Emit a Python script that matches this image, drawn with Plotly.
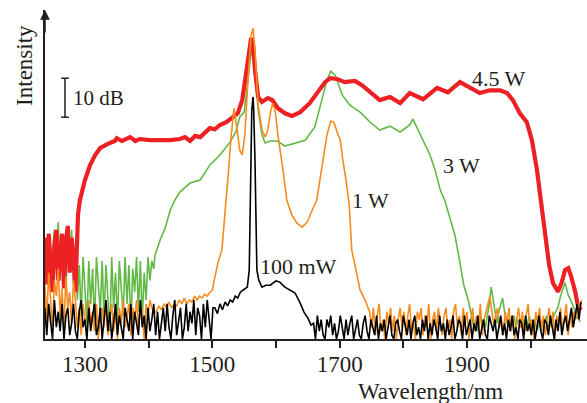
import plotly.graph_objects as go

FONT = "Liberation Serif, Times New Roman, serif"
INK = "#231F20"

RED = "#ED2024"
GREEN = "#62B946"
ORANGE = "#F68B1F"
BLACK = "#000000"

# Noise-floor segments are stored as spectrometer samples taken every NOISE_STEP nm
NOISE_STEP = 3

# ---------------- 4.5 W ----------------
red_noise_start = 1237
red_noise_db = [26, 14, 27, 19, 12, 24, 28, 15, 22, 27, 13, 25, 29, 17, 26, 21, 12, 27]
red_wl = [1289, 1292, 1300, 1308, 1316, 1324, 1331, 1339, 1347, 1350, 1358, 1371, 1379,
          1386, 1402, 1418, 1434, 1449, 1457, 1465, 1473, 1481, 1489, 1496, 1504, 1512,
          1522, 1533, 1540, 1547, 1551, 1556, 1561, 1564, 1567, 1572, 1578, 1587, 1594,
          1603, 1614, 1625, 1638, 1653, 1666, 1677, 1685, 1696, 1708, 1724, 1735, 1748,
          1763, 1779, 1795, 1810, 1831, 1853, 1870, 1889, 1905, 1920, 1936, 1952, 1963,
          1972, 1983, 1994, 2002, 2010, 2016, 2023, 2029, 2035, 2043, 2049, 2054, 2059,
          2063, 2070, 2074, 2079]
red_db = [31.8, 35.6, 40.8, 44.6, 47.2, 49.0, 49.7, 50.3, 50.8, 51.5, 50.8, 51.8, 50.8,
          51.3, 51.0, 51.0, 51.0, 51.3, 51.8, 50.8, 52.1, 51.8, 53.1, 54.1, 53.8, 54.9,
          55.6, 56.9, 57.9, 61.3, 66.4, 72.8, 77.2, 75.4, 69.0, 62.1, 60.8, 61.8, 61.3,
          59.2, 57.9, 57.2, 58.2, 60.5, 63.3, 65.9, 66.9, 66.7, 65.9, 66.2, 65.1, 63.3,
          61.3, 62.1, 60.5, 63.1, 61.5, 64.4, 63.3, 65.9, 64.6, 63.1, 63.8, 63.8, 63.1,
          61.3, 57.9, 55.6, 51.0, 43.3, 35.6, 26.7, 19.0, 14.4, 12.1, 14.6, 17.7, 18.2,
          16.4, 12.1, 8.7, 7.4]

# ---------------- 3 W ----------------
green_noise_start = 1237
green_noise_db = [26, 17, 24, 13, 22, 28, 19, 30, 15, 27, 21, 12, 26, 18, 28, 14, 24, 10,
                  19, 6, 21, 12, 4, 20, 9, 18, 3, 21, 14, 7, 20, 5, 19, 11, 2, 21, 8, 17,
                  4, 20, 13, 6, 21, 9, 19, 3, 18, 12, 21, 7, 20, 5, 17, 10, 21, 15, 20, 18]
green_wl = [1410, 1418, 1426, 1434, 1441, 1449, 1465, 1481, 1496, 1512, 1528, 1537, 1543,
            1550, 1556, 1561, 1565, 1569, 1572, 1578, 1583, 1591, 1602, 1614, 1630, 1646,
            1661, 1672, 1680, 1686, 1693, 1704, 1716, 1732, 1748, 1763, 1779, 1795, 1810,
            1815, 1823, 1831, 1842, 1850, 1858, 1865, 1873, 1881, 1889, 1895, 1902]
green_db = [21.5, 25.4, 28.5, 33.1, 35.6, 37.7, 40.0, 40.8, 44.6, 47.2, 50.5, 53.1, 56.9,
            58.2, 66.4, 74.1, 71.5, 63.8, 58.7, 52.3, 50.3, 50.8, 50.8, 49.5, 50.3, 51.0,
            54.4, 61.3, 66.4, 68.7, 67.7, 62.6, 60.0, 58.2, 55.6, 53.6, 54.6, 53.1, 54.9,
            56.4, 53.6, 51.0, 47.2, 43.3, 38.2, 35.6, 31.0, 26.7, 19.5, 13.8, 10.0]
green_tail_start = 1908
green_tail_db = [5.6, 3, 5, 2, 6, 4, 5, 3, 6, 9, 13.3, 10, 6, 4, 7, 9, 10.5, 7, 4, 5,
                 2, 4, 6, 3, 5, 4, 3, 5, 2, 4, 6, 3, 4, 5, 2, 4, 3, 5, 4, 6, 3, 4, 5, 6, 7]
green_end_wl = [2043, 2047, 2051, 2054, 2059, 2065, 2073, 2078]
green_end_db = [8.2, 11.0, 13.3, 14.4, 11.3, 9.2, 5.6, 4.4]

# ---------------- 1 W ----------------
orange_noise_start = 1237
orange_noise_db = [14, 5, 17, 9, 3, 15, 11, 18, 6, 13, 2, 16, 8, 12, 4, 15, 10,
                   3, 8, 1, 9, 5, 0, 10, 4, 7, 2, 9, 0, 6, 8, 3, 10, 1, 5, 9, 2, 7, 0, 8,
                   4, 10, 3, 6, 9, 1, 8, 5, 10, 2, 9, 7, 0, 9, 6, 10, 8, 7]
orange_base_wl = [1412, 1416, 1420, 1424, 1428, 1432, 1436, 1440, 1444, 1448, 1452, 1456,
                  1460, 1464, 1468, 1472, 1476, 1480, 1484, 1488, 1492, 1496, 1500]
orange_base_db = [7, 8.5, 7.5, 9, 8, 9.5, 8, 9, 8.5, 10, 9, 10.5, 9, 10, 9.5, 11, 10, 11,
                  10.5, 11.5, 11, 12, 12.5]
orange_wl = [1503, 1509, 1515, 1520, 1525, 1529, 1534, 1539, 1543, 1547, 1551, 1556, 1561,
             1564, 1567, 1572, 1578, 1583, 1587, 1592, 1595, 1599, 1603, 1611, 1617, 1625,
             1633, 1641, 1649, 1657, 1664, 1669, 1674, 1680, 1686, 1691, 1696, 1701, 1705,
             1710, 1715, 1719, 1724, 1732, 1740]
orange_db = [15.1, 19.7, 22.8, 31.8, 42.1, 51.0, 59.2, 53.6, 48.5, 47.2, 52.3, 66.4, 77.9,
             79.7, 74.1, 60.0, 53.6, 51.8, 53.6, 58.7, 60.5, 58.2, 52.3, 43.3, 35.6, 31.8,
             29.7, 28.7, 30.0, 33.1, 35.6, 40.8, 45.9, 52.3, 55.9, 55.6, 53.1, 51.0, 45.9,
             40.8, 34.4, 22.8, 19.0, 12.6, 10.0]
orange_tail_start = 1747
orange_tail_db = [7, 3, 8, 1, 6, 9, 2, 5, 0, 7, 4, 8, 2, 6, 0, 5, 8, 3, 7, 1,
                  6, 9, 2, 4, 0, 7, 5, 8, 1, 6, 3, 9, 0, 5, 7, 2, 8, 4, 1, 6,
                  8, 2, 5, 0, 7, 9, 3, 6, 1, 8, 4, 7, 0, 5, 8, 2, 6, 3, 9, 1,
                  5, 7, 9, 11, 7, 4, 6, 8, 3, 5, 1, 7, 4, 8, 2, 6, 0, 5, 8, 3,
                  7, 1, 6, 9, 2, 5, 0, 7, 4, 8, 2, 6, 1, 5, 8, 3, 7, 0, 6, 4,
                  8, 2, 5, 9, 1, 6, 3, 7, 5, 9, 8, 10]

# ---------------- 100 mW ----------------
black_noise_start = 1237
black_noise_db = [8, 1, 9, 5, 0, 10, 3, 7, 2, 9, 0, 6, 8, 1, 4, 9, 2, 0, 7, 10,
                  3, 5, 0, 8, 2, 6, 9, 1, 3, 8, 0, 5, 10, 2, 7, 0, 4, 9, 1, 6,
                  3, 0, 8, 5, 2, 9, 0, 7, 4, 1, 10, 3, 6, 0, 8, 2, 5, 9, 1, 7,
                  0, 4, 8, 2, 9, 3, 0, 6, 10, 1, 5, 8, 0, 3, 9, 2, 7, 4, 10, 1,
                  8, 6, 0, 9, 3, 10, 5, 0, 8]
black_wl = [1504, 1508, 1512, 1516, 1520, 1524, 1528, 1532, 1536, 1540, 1544, 1548, 1552,
            1555, 1558, 1559, 1561, 1562, 1564, 1565, 1567, 1569, 1570, 1573, 1578, 1584,
            1591, 1600, 1606, 1614, 1622, 1630, 1638, 1644, 1650, 1655]
black_db = [8, 6.5, 9, 7.5, 9.5, 8.5, 10, 9.5, 11, 10.5, 12, 12.5, 13, 13.3,
            17.7, 30.5, 45.9, 58.7, 62.1, 58.7, 45.9, 30.5, 17.7, 15.1, 13.3, 13.8, 13.8,
            14.9, 14.6, 13.3, 12.6, 11.8, 9.2, 6.9, 5.4, 3.6]
black_tail_start = 1659
black_tail_db = [4, 0, 6, 2, 5, 1, 0, 5, 3, 6, 1, 4, 0, 2, 6, 3, 0, 5, 1, 4,
                 6, 0, 3, 5, 1, 0, 4, 6, 2, 0, 5, 3, 1, 6, 0, 4, 2, 5, 0, 3,
                 6, 1, 0, 4, 5, 2, 0, 6, 3, 1, 5, 0, 4, 6, 1, 3, 0, 5, 2, 6,
                 0, 4, 1, 5, 3, 0, 6, 2, 4, 0, 5, 1, 3, 6, 0, 2, 5, 4, 0, 6,
                 1, 3, 5, 0, 4, 2, 6, 0, 3, 5, 1, 0, 6, 4, 2, 5, 0, 3, 6, 1,
                 4, 0, 5, 2, 6, 1, 3, 0, 5, 4, 0, 6, 2, 4, 1, 5, 0, 3, 6, 2,
                 0, 5, 4, 1, 6, 3, 0, 5, 2, 7, 1, 4, 6, 2, 5, 8, 3, 6, 9, 5, 9.5]

# Curve labels: (text, wavelength, level)
labels = [("4.5 W", 1950, 66.9), ("3 W", 1892, 44.6), ("1 W", 1748, 35.6),
          ("100 mW", 1636, 18.5)]

x_ticks = [1300, 1400, 1500, 1600, 1700, 1800, 1900, 2000]
x_tick_text = ["1300", "", "1500", "", "1700", "", "1900", ""]
x_range = [1237.2, 2088.5]
y_range = [0, 84.4]
scale_bar_db = 10
scale_bar_top = 66.9
scale_bar_wl = 1268.6


def sampled(start, values):
    return [start + NOISE_STEP * i for i in range(len(values))]


def spectrum(*segments):
    xs, ys = [], []
    for wl, db in segments:
        xs += list(wl)
        ys += list(db)
    return xs, ys


spectra = [
    ("3 W", GREEN, 1.6, spectrum(
        (sampled(green_noise_start, green_noise_db), green_noise_db),
        (green_wl, green_db),
        (sampled(green_tail_start, green_tail_db), green_tail_db),
        (green_end_wl, green_end_db))),
    ("4.5 W", RED, 4.2, spectrum(
        (sampled(red_noise_start, red_noise_db), red_noise_db),
        (red_wl, red_db))),
    ("1 W", ORANGE, 1.6, spectrum(
        (sampled(orange_noise_start, orange_noise_db), orange_noise_db),
        (orange_base_wl, orange_base_db),
        (orange_wl, orange_db),
        (sampled(orange_tail_start, orange_tail_db), orange_tail_db))),
    ("100 mW", BLACK, 1.6, spectrum(
        (sampled(black_noise_start, black_noise_db), black_noise_db),
        (black_wl, black_db),
        (sampled(black_tail_start, black_tail_db), black_tail_db))),
]

fig = go.Figure()
for name, color, width, (xs, ys) in spectra:
    fig.add_trace(go.Scatter(x=xs, y=ys, mode="lines", name=name,
                             line=dict(color=color, width=width),
                             showlegend=False, hoverinfo="skip"))

annotations = []
for text, wl, db in labels:
    annotations.append(dict(x=wl, y=db, xref="x", yref="y", text=text,
                            showarrow=False, font=dict(family=FONT, size=22, color=INK)))

# Axis titles
annotations.append(dict(x=-0.037, y=0.833, xref="paper", yref="paper", text="Intensity",
                        textangle=-90, showarrow=False, xanchor="center", yanchor="middle",
                        font=dict(family=FONT, size=23, color=INK)))
annotations.append(dict(x=1842, y=-0.159, xref="x", yref="paper", text="Wavelength/nm",
                        showarrow=False, xanchor="center", yanchor="middle",
                        font=dict(family=FONT, size=23, color=INK)))
# Scale-bar caption
annotations.append(dict(x=scale_bar_wl + 10, y=scale_bar_top - scale_bar_db / 2,
                        xref="x", yref="y", text="10 dB", xanchor="left", yanchor="middle",
                        showarrow=False, font=dict(family=FONT, size=21, color=INK)))
# Arrow head on the intensity axis
annotations.append(dict(x=x_range[0], y=y_range[1], xref="x", yref="y", text="",
                        showarrow=True, ax=0, ay=24, arrowhead=2, arrowsize=1.3,
                        arrowwidth=1.5, arrowcolor=INK))

shapes = [
    dict(type="line", xref="x", yref="y", x0=scale_bar_wl, x1=scale_bar_wl,
         y0=scale_bar_top - scale_bar_db, y1=scale_bar_top, line=dict(color=INK, width=1.5)),
    dict(type="line", xref="x", yref="y", x0=scale_bar_wl - 6, x1=scale_bar_wl + 6,
         y0=scale_bar_top, y1=scale_bar_top, line=dict(color=INK, width=1.5)),
    dict(type="line", xref="x", yref="y", x0=scale_bar_wl - 6, x1=scale_bar_wl + 6,
         y0=scale_bar_top - scale_bar_db, y1=scale_bar_top - scale_bar_db,
         line=dict(color=INK, width=1.5)),
]

fig.update_layout(
    width=587, height=403,
    margin=dict(l=45, r=0, t=10, b=64),
    paper_bgcolor="white", plot_bgcolor="white",
    annotations=annotations, shapes=shapes,
    xaxis=dict(range=x_range, showline=True, linecolor=INK, linewidth=1.5,
               ticks="outside", ticklen=7, tickwidth=1.5, tickcolor=INK,
               ticklabelstandoff=-3,
               tickvals=x_ticks, ticktext=x_tick_text, showgrid=False, zeroline=False,
               tickfont=dict(family=FONT, size=23, color=INK)),
    yaxis=dict(range=y_range, showline=True, linecolor=INK, linewidth=1.5,
               showticklabels=False, ticks="", showgrid=False, zeroline=False),
)

fig.write_html("out.html")
